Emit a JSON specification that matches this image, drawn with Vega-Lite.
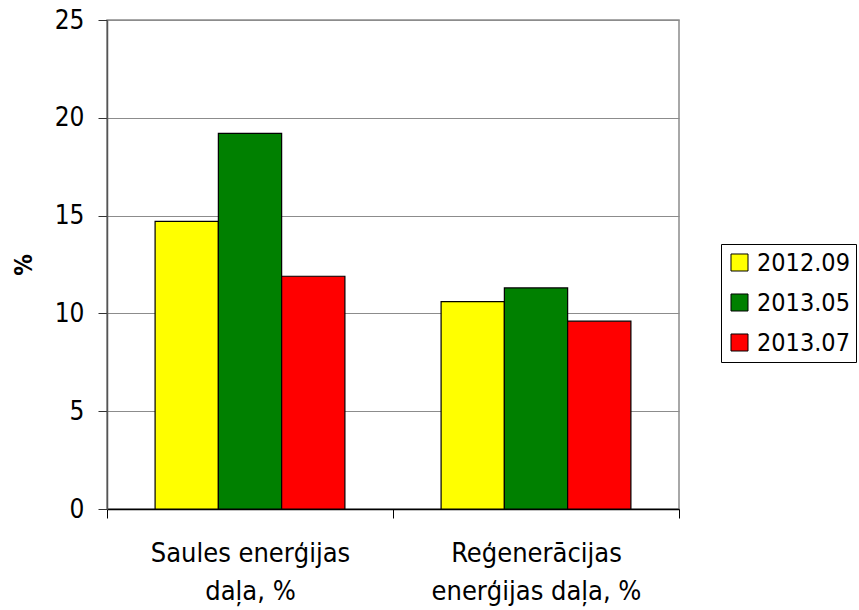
{
  "$schema": "https://vega.github.io/schema/vega-lite/v6.json",
  "width": 572,
  "height": 489,
  "autosize": {"type": "none"},
  "padding": {"left": 107, "top": 20, "right": 180, "bottom": 101},
  "background": "white",
  "config": {
    "font": "DejaVu Sans Condensed",
    "view": {"stroke": "#8c8c8c", "strokeWidth": 1.5}
  },
  "data": {
    "values": [
      {"kategorija": "Saules enerģijas daļa, %", "periods": "2012.09", "vertiba": 14.7},
      {"kategorija": "Saules enerģijas daļa, %", "periods": "2013.05", "vertiba": 19.2},
      {"kategorija": "Saules enerģijas daļa, %", "periods": "2013.07", "vertiba": 11.9},
      {"kategorija": "Reģenerācijas enerģijas daļa, %", "periods": "2012.09", "vertiba": 10.6},
      {"kategorija": "Reģenerācijas enerģijas daļa, %", "periods": "2013.05", "vertiba": 11.3},
      {"kategorija": "Reģenerācijas enerģijas daļa, %", "periods": "2013.07", "vertiba": 9.6}
    ]
  },
  "mark": {"type": "bar", "stroke": "black", "strokeWidth": 1.2},
  "encoding": {
    "x": {
      "field": "kategorija",
      "type": "nominal",
      "sort": ["Saules enerģijas daļa, %", "Reģenerācijas enerģijas daļa, %"],
      "scale": {"paddingInner": 0, "paddingOuter": 0},
      "axis": {
        "title": null,
        "labelAngle": 0,
        "tickBand": "extent",
        "tickSize": 9,
        "tickColor": "#000000",
        "domainColor": "#000000",
        "domainWidth": 1.5,
        "labelFontSize": 27,
        "labelColor": "#000000",
        "labelPadding": 22,
        "labelLineHeight": 38,
        "labelBaseline": "top",
        "labelLimit": 400,
        "labelExpr": "datum.value == 'Saules enerģijas daļa, %' ? ['Saules enerģijas', 'daļa, %'] : (datum.value == 'Reģenerācijas enerģijas daļa, %' ? ['Reģenerācijas', 'enerģijas daļa, %'] : '')"
      }
    },
    "xOffset": {
      "field": "periods",
      "type": "nominal",
      "scale": {"paddingInner": 0, "paddingOuter": 0.76}
    },
    "y": {
      "field": "vertiba",
      "type": "quantitative",
      "scale": {"domain": [0, 25], "nice": false},
      "axis": {
        "title": "%",
        "titleFontSize": 24,
        "titleFontWeight": "bold",
        "titleColor": "#000000",
        "titlePadding": 18,
        "values": [0, 5, 10, 15, 20, 25],
        "tickSize": 9,
        "tickColor": "#333333",
        "domainColor": "#555555",
        "domainWidth": 1.5,
        "gridColor": "#8c8c8c",
        "gridWidth": 1.2,
        "labelFontSize": 26,
        "labelColor": "#000000",
        "labelPadding": 14
      }
    },
    "color": {
      "field": "periods",
      "type": "nominal",
      "scale": {"domain": ["2012.09", "2013.05", "2013.07"], "range": ["#FFFF00", "#008000", "#FF0000"]},
      "legend": {
        "title": null,
        "orient": "none",
        "legendX": 614,
        "legendY": 224,
        "strokeColor": "#000000",
        "padding": 6,
        "symbolType": "square",
        "symbolSize": 290,
        "symbolStrokeColor": "#000000",
        "symbolStrokeWidth": 1,
        "symbolOpacity": 1,
        "labelFontSize": 25,
        "labelColor": "#000000",
        "labelOffset": 5,
        "rowPadding": 14
      }
    }
  }
}
